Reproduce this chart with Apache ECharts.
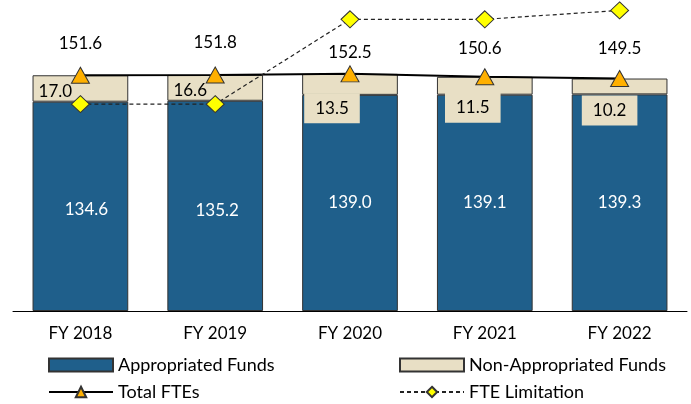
<!DOCTYPE html>
<html lang="en">
<head>
  <meta charset="UTF-8">
  <title>FTEs</title>
  <style>
    html, body { margin: 0; padding: 0; background: #fff; }
    #main { width: 691px; height: 404px; }
  </style>
</head>
<body>
  <div id="main"></div>
  <script src="https://cdn.jsdelivr.net/npm/echarts@6/dist/echarts.min.js"></script>
  <script>
    var categories = ['FY 2018', 'FY 2019', 'FY 2020', 'FY 2021', 'FY 2022'];
    var appropriated = [134.6, 135.2, 139.0, 139.1, 139.3];
    var nonAppropriated = [17.0, 16.6, 13.5, 11.5, 10.2];
    var totalFtes = [151.6, 151.8, 152.5, 150.6, 149.5];
    var fteLimitation = [133.0, 133.0, 187.6, 187.6, 193.3];

    // label placement
    var apprOffset = [[6, 3], [2, 5], [0, 0], [0, 0], [0, 0]];
    var nonOffset = [[-25, 3], [-25, 3], [-18, 24], [-12, 22], [-10, 24]];
    var nonBoxed = [false, false, true, true, true];
    var totalOffset = [[0, -32], [0, -32], [0, -21], [-5, -28], [0, -30]];

    var font = 'Lato, "Open Sans", sans-serif';
    var beige = '#E8DFC5';
    var myChart = echarts.init(document.getElementById('main'));

    function withOffsets(values, offsets) {
      return values.map(function (v, i) {
        return { value: v, label: { offset: offsets[i] } };
      });
    }
    function oneDecimal(p) { return p.value.toFixed(1); }

    var nonData = withOffsets(nonAppropriated, nonOffset);
    nonData.forEach(function (d, i) {
      if (!nonBoxed[i]) {
        d.label.backgroundColor = 'transparent';
        d.label.borderColor = 'transparent';
        d.label.padding = 0;
      }
    });

    var legendText = { fontSize: 18, color: '#000', fontFamily: font };

    var option = {
      animation: false,
      textStyle: { fontFamily: font },
      grid: { left: 13, right: 4, top: 0, bottom: 93 },
      xAxis: {
        type: 'category',
        data: categories,
        axisLine: { lineStyle: { color: '#000', width: 1 } },
        axisTick: { length: 6, lineStyle: { color: '#000' } },
        axisLabel: { color: '#000', fontSize: 17, margin: 14, fontFamily: font }
      },
      yAxis: { type: 'value', min: 0, max: 200, show: false },
      legend: [
        { left: 43, top: 351, itemWidth: 64, itemHeight: 13, itemGap: 8,
          textStyle: legendText, data: [{ name: 'Appropriated Funds', icon: 'rect' }] },
        { left: 394, top: 351, itemWidth: 64, itemHeight: 13,
          textStyle: legendText, data: [{ name: 'Non-Appropriated Funds', icon: 'rect' }] },
        { left: 43, top: 378, itemWidth: 64, itemHeight: 13,
          textStyle: legendText, data: ['Total FTEs'] },
        { left: 394, top: 378, itemWidth: 64, itemHeight: 13,
          textStyle: legendText, data: ['FTE Limitation'] }
      ],
      series: [
        {
          name: 'Appropriated Funds',
          type: 'bar',
          stack: 'fte',
          barCategoryGap: '29%',
          itemStyle: { color: '#1F5F8B', borderColor: '#333', borderWidth: 1 },
          label: { show: true, position: 'inside', color: '#fff', fontSize: 17,
            fontFamily: font, formatter: oneDecimal },
          data: withOffsets(appropriated, apprOffset)
        },
        {
          name: 'Non-Appropriated Funds',
          type: 'bar',
          stack: 'fte',
          itemStyle: { color: beige, borderColor: '#333', borderWidth: 1 },
          label: {
            show: true, position: 'inside', color: '#000', fontSize: 17, fontFamily: font,
            backgroundColor: beige, borderColor: beige, borderWidth: 1,
            textBorderWidth: 0, shadowBlur: 0, padding: [6, 10, 5, 10],
            formatter: oneDecimal
          },
          data: nonData
        },
        {
          name: 'Total FTEs',
          type: 'line',
          z: 5,
          symbol: 'triangle',
          symbolSize: [18, 16],
          lineStyle: { color: '#000', width: 2 },
          itemStyle: { color: '#FFB000', borderColor: '#333', borderWidth: 1 },
          label: { show: true, position: 'inside', color: '#000', fontSize: 17, fontFamily: font,
            formatter: oneDecimal },
          data: withOffsets(totalFtes, totalOffset)
        },
        {
          name: 'FTE Limitation',
          type: 'line',
          z: 6,
          symbol: 'diamond',
          symbolSize: [18, 17],
          lineStyle: { color: '#222', width: 1.2, type: [4, 3] },
          itemStyle: { color: '#FFFF00', borderColor: '#333', borderWidth: 1 },
          data: fteLimitation
        }
      ]
    };

    myChart.setOption(option);
  </script>
</body>
</html>
